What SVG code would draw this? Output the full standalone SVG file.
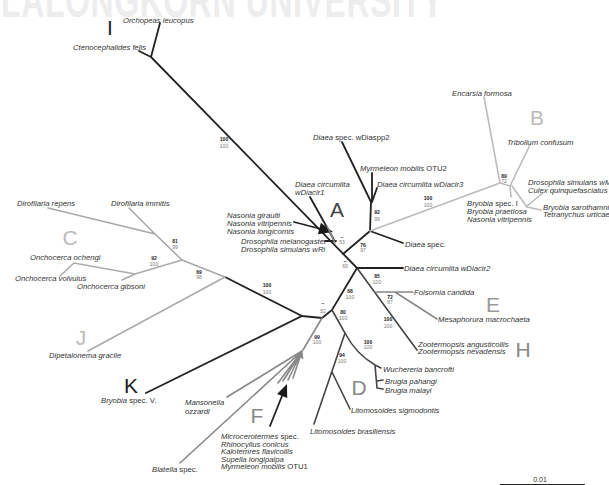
<svg xmlns="http://www.w3.org/2000/svg" width="609" height="485" viewBox="0 0 609 485">
<style>
.sp{font-family:"Liberation Sans",Arial,sans-serif;font-size:7.7px;font-style:italic;fill:#333}
.rm{font-style:normal}
.bs{font-family:"Liberation Sans",Arial,sans-serif;font-size:5px;text-anchor:middle}
.bt{font-weight:bold;fill:#222}
.bb{fill:#777}
.cl{font-family:"Liberation Sans",Arial,sans-serif;font-size:21px;text-anchor:middle}
.k{fill:none;stroke:#222;stroke-width:1.8;stroke-linecap:round}
.g1{fill:none;stroke:#bbb;stroke-width:1.6;stroke-linecap:round}
.g2{fill:none;stroke:#aaa;stroke-width:1.6;stroke-linecap:round}
.g3{fill:none;stroke:#888;stroke-width:1.6;stroke-linecap:round}
.d{fill:none;stroke:#444;stroke-width:1.6;stroke-linecap:round}
.ah{fill:#1a1a1a}
</style>
<defs>
<marker id="ag" viewBox="0 0 10 10" refX="9" refY="5" markerWidth="5" markerHeight="5" orient="auto" markerUnits="strokeWidth"><path d="M0,0L10,5L0,10z" fill="#888"/></marker>
</defs>
<text x="-70" y="0" transform="translate(0,17) scale(1,1.5)" font-family="Liberation Sans,Arial,sans-serif" font-weight="bold" font-size="32" fill="#ededed" textLength="513">CHULALONGKORN UNIVERSITY</text>

<g id="connectors">
<path class="k" d="M160,23L151,57M139,51L151,57M151,57L357,268"/>
<path class="k" d="M357,268L403,268" stroke-width="2.4"/>
<path class="k" d="M343,254L370,231L371,202M342,142L371,202M372,173L372,202M377,188L372,202M370,231L403,243"/>
<path class="k" d="M310,197L334,240M325,241L336,241"/>
<path class="k" d="M294,222L321,229" stroke-width="2"/>
<polygon class="ah" points="333,232 317.9,234.3 320.9,222.7"/>
<path class="g3" d="M327,226L335,243"/>
<path class="d" d="M357,268L400,327L417,350"/>
<path class="k" d="M357,268L332,310L322,318L302,316L146,393M302,316L225,277"/>
<path class="g3" d="M322,318L303,350"/>
<path class="d" d="M332,310L345,333L314,424M332,372L350,409M345,333Q356,354 375,365L381,368M375,365L377,388M377,381L383,380M377,388L383,389"/>
<path class="g2" d="M225,277L182,260L155,234L48,208M155,234L129,208M182,260L135,274L74,263L60,276M135,274L122,280M225,277L88,351"/>
<path class="g1" d="M370,231L500,183L484,97M500,183L510,186L530,145M510,186L511,197M512,186L527,207L541,210M527,206L543,193"/>
<path class="g3" d="M375,292L413,292M395,292L437,319" stroke="#999"/>
<path class="g3" d="M227,397L302,351M180,463L302,351M278,383L302,351M283,381L302,351M288,380L302,351M293,378L302,351" marker-end="url(#ag)"/>
<path class="k" d="M270,426L282,396" stroke-width="2"/>
<polygon class="ah" points="287,384 287.2,398.1 277,394"/>
</g>

<g id="bootstrap">
<text class="bs bt" x="224" y="141">100</text><text class="bs bb" x="224" y="148">100</text>
<text class="bs bt" x="342" y="239">–</text><text class="bs bb" x="342" y="244">53</text>
<text class="bs bt" x="377" y="214">92</text><text class="bs bb" x="377" y="221">99</text>
<text class="bs bt" x="363" y="247">76</text><text class="bs bb" x="363" y="252">97</text>
<text class="bs bt" x="345" y="263">–</text><text class="bs bb" x="345" y="268">69</text>
<text class="bs bt" x="428" y="200">100</text><text class="bs bb" x="428" y="207">100</text>
<text class="bs bt" x="504" y="178">89</text><text class="bs bb" x="504" y="183">72</text>
<text class="bs bt" x="377" y="278">85</text><text class="bs bb" x="377" y="284">100</text>
<text class="bs bt" x="390" y="299">72</text><text class="bs bb" x="390" y="304">87</text>
<text class="bs bt" x="388" y="321">100</text><text class="bs bb" x="388" y="328">100</text>
<text class="bs bt" x="350" y="293">68</text><text class="bs bb" x="350" y="299">100</text>
<text class="bs bt" x="323" y="305">–</text><text class="bs bb" x="323" y="313">52</text>
<text class="bs bt" x="343" y="314">80</text><text class="bs bb" x="343" y="320">100</text>
<text class="bs bt" x="317" y="339">99</text><text class="bs bb" x="317" y="344">100</text>
<text class="bs bt" x="368" y="344">100</text><text class="bs bb" x="368" y="349">100</text>
<text class="bs bt" x="342" y="357">94</text><text class="bs bb" x="342" y="363">100</text>
<text class="bs bt" x="267" y="287">100</text><text class="bs bb" x="267" y="294">100</text>
<text class="bs bt" x="175" y="243">81</text><text class="bs bb" x="175" y="249">99</text>
<text class="bs bt" x="154" y="260">92</text><text class="bs bb" x="154" y="266">100</text>
<text class="bs bt" x="199" y="274">69</text><text class="bs bb" x="199" y="279">98</text>
</g>

<g id="clade-I"><text class="cl" x="110" y="35" fill="#222">I</text>
<text class="sp" x="123" y="23">Orchopeas leucopus</text>
<text class="sp" x="73" y="50">Ctenocephalides felis</text></g>

<g id="clade-A"><text class="cl" x="337" y="217" fill="#444">A</text>
<text class="sp" x="313" y="140">Diaea <tspan class="rm">spec. wDiaspp2</tspan></text>
<text class="sp" x="360" y="171">Myrmeleon mobilis <tspan class="rm">OTU2</tspan></text>
<text class="sp" x="377" y="187">Diaea circumlita wDiacir3</text>
<text class="sp" x="295" y="187">Diaea circumlita</text>
<text class="sp" x="295" y="195">wDiacir1</text>
<text class="sp" x="227" y="218">Nasonia giraulti</text>
<text class="sp" x="227" y="226">Nasonia vitripennis</text>
<text class="sp" x="227" y="234">Nasonia longicornis</text>
<text class="sp" x="241" y="244">Drosophila melanogaster</text>
<text class="sp" x="241" y="252">Drosophila simulans wRi</text>
<text class="sp" x="405" y="247">Diaea <tspan class="rm">spec.</tspan></text>
<text class="sp" x="404" y="271">Diaea circumlita wDiacir2</text></g>

<g id="clade-B"><text class="cl" x="537" y="125" fill="#bbb">B</text>
<text class="sp" x="452" y="96">Encarsia formosa</text>
<text class="sp" x="507" y="145">Tribolium confusum</text>
<text class="sp" x="528" y="185">Drosophila simulans wMa</text>
<text class="sp" x="528" y="193">Culex quinquefasciatus</text>
<text class="sp" x="467" y="206">Bryobia <tspan class="rm">spec. I</tspan></text>
<text class="sp" x="467" y="214">Bryobia praetiosa</text>
<text class="sp" x="467" y="222">Nasonia vitripennis</text>
<text class="sp" x="543" y="210">Bryobia sarothamni</text>
<text class="sp" x="543" y="217">Tetranychus urticae</text></g>

<g id="clade-E"><text class="cl" x="493" y="312" fill="#999">E</text>
<text class="sp" x="414" y="295">Folsomia candida</text>
<text class="sp" x="438" y="322">Mesaphorura macrochaeta</text></g>

<g id="clade-H"><text class="cl" x="523" y="357" fill="#888">H</text>
<text class="sp" x="418" y="347">Zootermopsis angusticollis</text>
<text class="sp" x="418" y="354">Zootermopsis nevadensis</text></g>

<g id="clade-D"><text class="cl" x="359" y="395" fill="#888">D</text>
<text class="sp" x="383" y="372">Wuchereria bancrofti</text>
<text class="sp" x="385" y="384">Brugia pahangi</text>
<text class="sp" x="385" y="393">Brugia malayi</text>
<text class="sp" x="351" y="413">Litomosoides sigmodontis</text>
<text class="sp" x="310" y="434">Litomosoides brasiliensis</text></g>

<g id="clade-F"><text class="cl" x="257" y="423" fill="#888">F</text>
<text class="sp" x="185" y="405">Mansonella</text>
<text class="sp" x="185" y="414">ozzardi</text>
<text class="sp" x="221" y="439">Microcerotermes <tspan class="rm">spec.</tspan></text>
<text class="sp" x="221" y="446.5">Rhinocyllus conicus</text>
<text class="sp" x="221" y="454">Kalotemres flavicollis</text>
<text class="sp" x="221" y="461.5">Supella longipalpa</text>
<text class="sp" x="221" y="469">Myrmeleon mobilis <tspan class="rm">OTU1</tspan></text>
<text class="sp" x="152" y="472">Blatella <tspan class="rm">spec.</tspan></text></g>

<g id="clade-K"><text class="cl" x="131" y="393" fill="#222">K</text>
<text class="sp" x="101" y="403">Bryobia <tspan class="rm">spec. V.</tspan></text></g>

<g id="clade-J"><text class="cl" x="81" y="345" fill="#bbb">J</text>
<text class="sp" x="49" y="358">Dipetalonema gracile</text></g>

<g id="clade-C"><text class="cl" x="70" y="245" fill="#bbb">C</text>
<text class="sp" x="17" y="206">Dirofilaria repens</text>
<text class="sp" x="111" y="206">Dirofilaria immitis</text>
<text class="sp" x="30" y="260">Onchocerca ochengi</text>
<text class="sp" x="15" y="281">Onchocerca volvulus</text>
<text class="sp" x="77" y="289">Onchocerca gibsoni</text></g>

<g id="scale"><text x="540" y="482" font-family="Liberation Sans,Arial,sans-serif" font-size="7px" text-anchor="middle" fill="#333">0.01</text>
<path d="M500,484.5H585" stroke="#222" stroke-width="1"/></g>
</svg>
